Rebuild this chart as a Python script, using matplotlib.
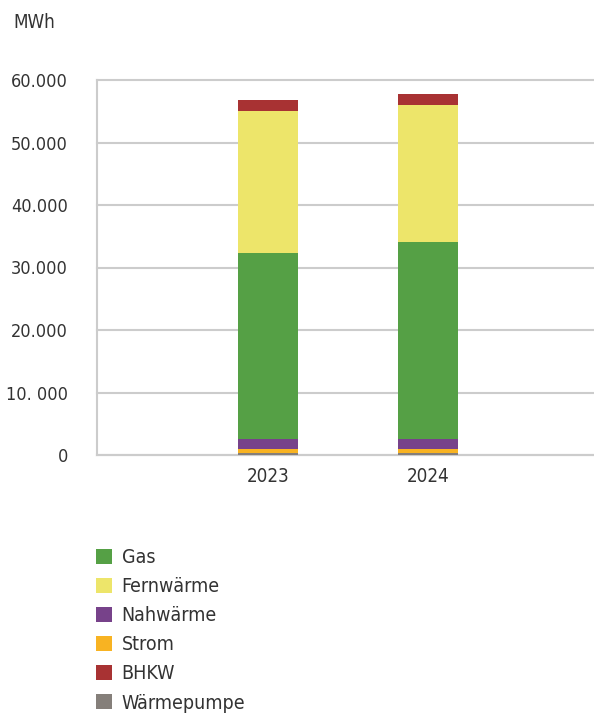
import matplotlib
matplotlib.use("Agg")
import matplotlib.pyplot as plt
from matplotlib.patches import Patch
import numpy as np

years = ["2023", "2024"]
series_names = ["Wärmepumpe", "Strom", "Nahwärme", "Gas", "Fernwärme", "BHKW"]
waermepumpe = [300, 300]
strom = [650, 650]
nahwaerme = [1600, 1600]
gas = [29750, 31550]
fernwaerme = [22700, 21900]
bhkw = [1800, 1760]
yticks = [0, 10000, 20000, 30000, 40000, 50000, 60000]
ytick_labels = ["0", "10. 000", "20.000", "30.000", "40.000", "50.000", "60.000"]
legend_order = ["Gas", "Fernwärme", "Nahwärme", "Strom", "BHKW", "Wärmepumpe"]

colors = {
    "Wärmepumpe": "#857F7A",
    "Strom": "#F8B322",
    "Nahwärme": "#77428A",
    "Gas": "#55A045",
    "Fernwärme": "#EDE56A",
    "BHKW": "#A83233",
}

plt.rcParams["font.family"] = ["DejaVu Sans"]
plt.rcParams["font.stretch"] = "condensed"
txt = "#333333"

fig = plt.figure(figsize=(5.94, 7.13), dpi=100)
ax = fig.add_axes([97/594, (713-455)/713, 1 - 97/594, (455-80)/713])

data = [waermepumpe, strom, nahwaerme, gas, fernwaerme, bhkw]
x = np.arange(len(years))
bottom = np.zeros(len(years))
for name, vals in zip(series_names, data):
    ax.bar(x, vals, width=0.375, bottom=bottom, color=colors[name], zorder=3)
    bottom += np.array(vals)

ax.set_xlim(-1.069, 2.04)
ax.set_ylim(0, 60000)
ax.set_yticks(yticks)
ax.set_yticklabels(ytick_labels, fontsize=13, color=txt, fontstretch="condensed")
ax.set_xticks(x)
ax.set_xticklabels(years, fontsize=13.5, color=txt, fontstretch="condensed")
ax.tick_params(axis="y", length=0, pad=21)
ax.tick_params(axis="x", length=0, pad=9)
ax.grid(axis="y", color="#CCCCCC", linewidth=1.5, zorder=0)
ax.set_axisbelow(True)
for s in ["top", "right"]:
    ax.spines[s].set_visible(False)
for s in ["left", "bottom"]:
    ax.spines[s].set_color("#CCCCCC")
    ax.spines[s].set_linewidth(1.5)
for gl in ax.get_ygridlines():
    gl.set_clip_on(False)

fig.text(13/594, 1 - 22/713, "MWh", fontsize=13.5, color=txt, va="center", ha="left",
         fontstretch="condensed")

handles = [Patch(facecolor=colors[n], edgecolor="none") for n in legend_order]
fig.legend(handles, legend_order, loc="upper left", bbox_to_anchor=(96/594, 1 - 548/713),
           frameon=False, handlelength=0.82, handleheight=0.82,
           labelspacing=0.52, handletextpad=0.5, borderaxespad=0, borderpad=0,
           labelcolor=txt, prop={"stretch": "condensed", "size": 14})

fig.savefig("out.png", dpi=100)
